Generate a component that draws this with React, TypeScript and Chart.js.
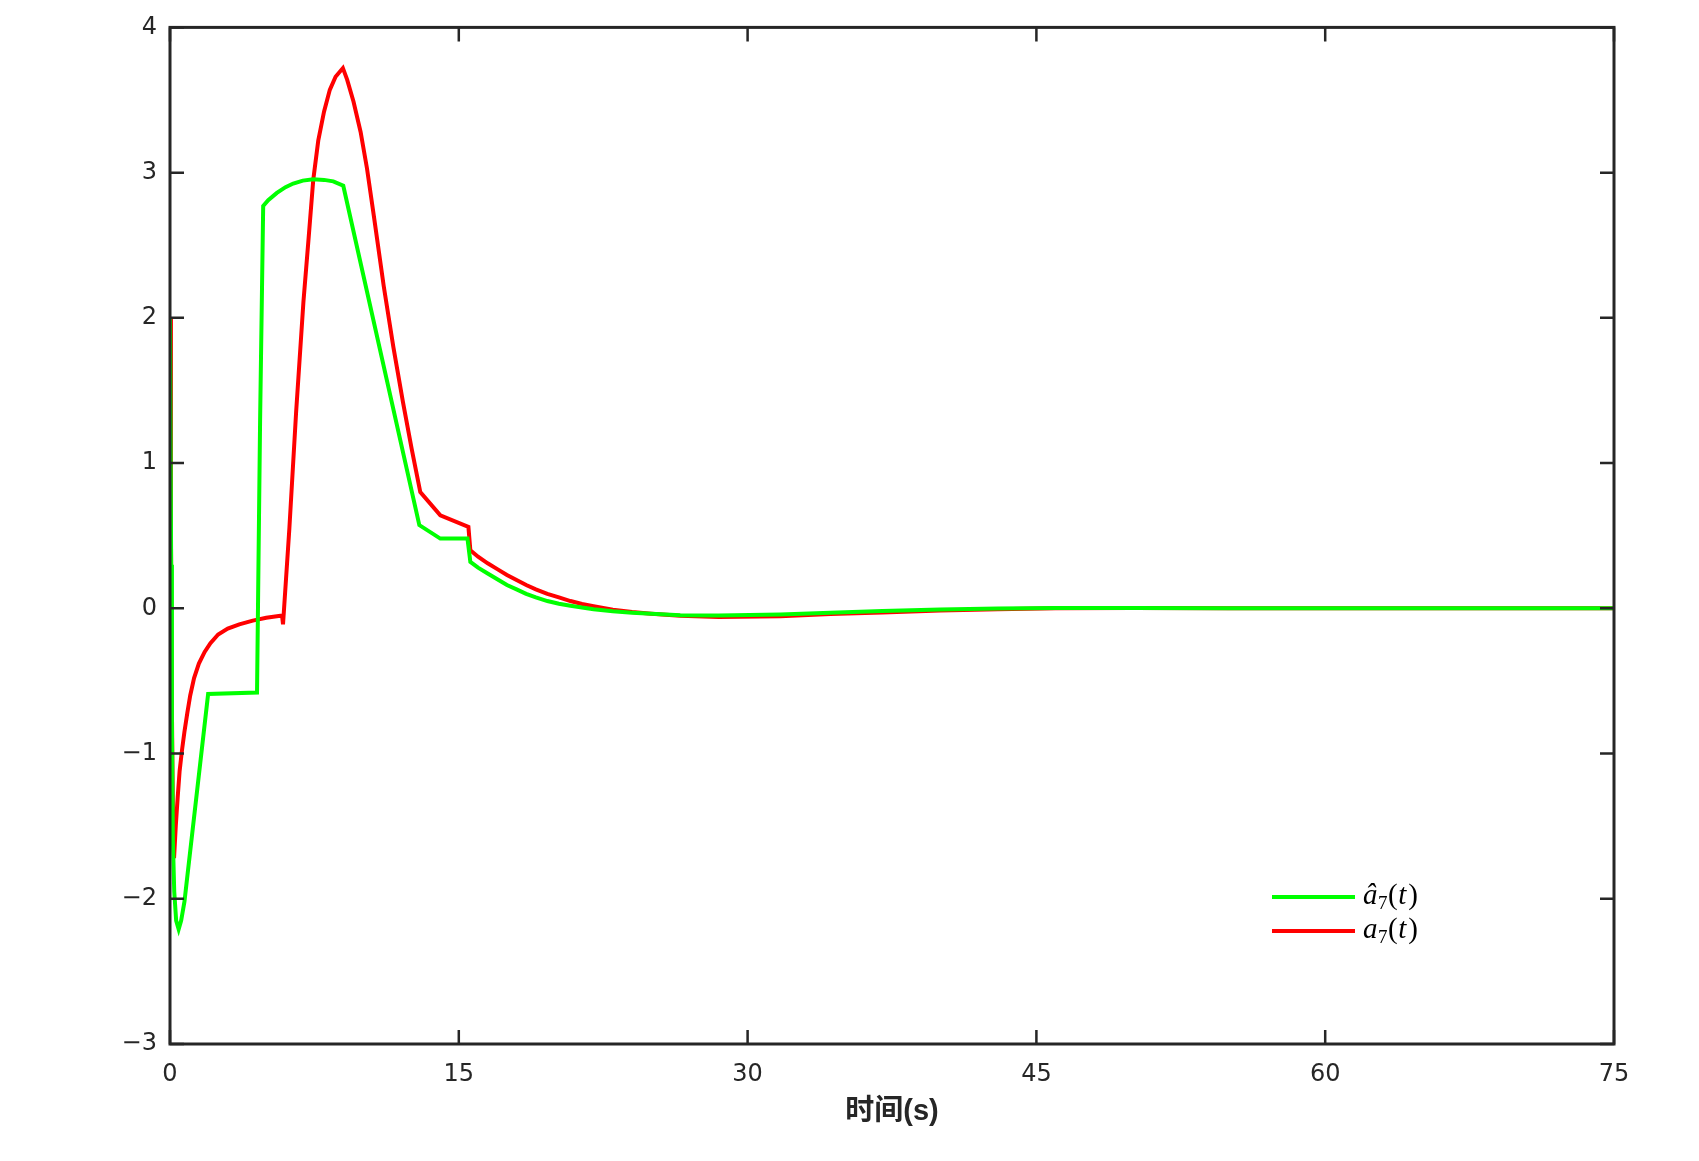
import React, { useEffect, useRef } from "react";
import { Chart, registerables } from "chart.js";

Chart.register(...registerables);

// estimated parameter â7(t)
const estTime = [
	0, 0.06, 0.1, 0.15, 0.22, 0.32, 0.45, 0.58, 0.75, 1.98, 4.52, 4.68, 4.84, 5.1, 5.55, 6.0, 6.4, 6.9, 7.44, 8.0,
	8.48, 9.0, 12.95, 14.04, 15.45, 15.6, 16.0, 16.5, 17.0, 17.5, 18.0, 18.5, 19.0, 19.6, 20.2, 20.8, 21.4, 22, 23,
	24, 25, 26.5, 28.5, 31.7, 34.3, 37, 40, 43, 46, 50, 55, 60, 65, 70, 75,
];
const estValue = [
	2.0, 0.3, -0.8, -1.6, -1.95, -2.15, -2.21, -2.15, -2.02, -0.59, -0.58, 1.3, 2.77, 2.81, 2.86, 2.9, 2.925, 2.945,
	2.955, 2.95, 2.94, 2.91, 0.573, 0.48, 0.48, 0.32, 0.28, 0.24, 0.2, 0.16, 0.13, 0.1, 0.075, 0.05, 0.032, 0.018,
	0.005, -0.006, -0.02, -0.03, -0.038, -0.047, -0.05, -0.042, -0.03, -0.018, -0.008, -0.002, 0.002, 0.002, 0.001, 0,
	0, 0, 0,
];

// actual parameter a7(t)
const trueTime = [
	0, 0.05, 0.1, 0.15, 0.21, 0.3, 0.4, 0.5, 0.62, 0.75, 0.9, 1.05, 1.25, 1.5, 1.8, 2.1, 2.5, 3.0, 3.6, 4.3, 5.0, 5.82,
	5.87, 6.2, 6.55, 6.93, 7.2, 7.44, 7.7, 8.0, 8.3, 8.6, 8.98, 9.2, 9.53, 9.9, 10.23, 10.6, 11.1, 11.6, 12.1, 12.55,
	13.0, 14.04, 15.5, 15.6, 16.0, 16.5, 17.0, 17.5, 18.0, 18.5, 19.0, 19.6, 20.2, 20.8, 21.4, 22, 23, 24, 25, 26.5,
	28.5, 31.7, 34.3, 37, 40, 43, 46, 50, 55, 60, 65, 70, 75,
];
const trueValue = [
	2.0, 0.5, -0.7, -1.4, -1.72, -1.5, -1.3, -1.12, -0.98, -0.85, -0.72, -0.6, -0.48, -0.38, -0.3, -0.24, -0.18, -0.14,
	-0.11, -0.085, -0.065, -0.05, -0.11, 0.55, 1.35, 2.11, 2.55, 2.95, 3.22, 3.42, 3.57, 3.66, 3.72, 3.64, 3.49, 3.28,
	3.03, 2.69, 2.22, 1.8, 1.42, 1.1, 0.8, 0.64, 0.56, 0.4, 0.355, 0.31, 0.27, 0.23, 0.195, 0.16, 0.13, 0.1, 0.075,
	0.05, 0.03, 0.015, -0.01, -0.026, -0.038, -0.052, -0.06, -0.055, -0.04, -0.028, -0.015, -0.006, 0, 0.002, 0.001, 0,
	0, 0, 0,
];

const xTicks = [0, 15, 30, 45, 60, 75];
const yTicks = [-3, -2, -1, 0, 1, 2, 3, 4];
const xLabel = "时间(s)";
const legendBase = ["â", "a"];

const toPoints = (t: number[], v: number[]) => t.map((x, i) => ({ x, y: v[i] }));

const axisColor = "#262626";
const tickFont = { family: "'DejaVu Sans', sans-serif", size: 24 };

const framePlugin = {
	id: "frame",
	afterDatasetsDraw(chart: any) {
		const { ctx, chartArea: a, scales } = chart;
		ctx.save();
		ctx.strokeStyle = axisColor;
		ctx.lineWidth = 3;
		ctx.strokeRect(a.left, a.top, a.right - a.left, a.bottom - a.top);

		// ticks point inward, on all four sides
		ctx.lineWidth = 2.5;
		ctx.beginPath();
		xTicks.forEach((v) => {
			const x = scales.x.getPixelForValue(v);
			ctx.moveTo(x, a.bottom);
			ctx.lineTo(x, a.bottom - 14);
			ctx.moveTo(x, a.top);
			ctx.lineTo(x, a.top + 14);
		});
		yTicks.forEach((v) => {
			const y = scales.y.getPixelForValue(v);
			ctx.moveTo(a.left, y);
			ctx.lineTo(a.left + 14, y);
			ctx.moveTo(a.right, y);
			ctx.lineTo(a.right - 14, y);
		});
		ctx.stroke();

		// legend inside the plot, bottom right
		const x0 = a.right - 342;
		const x1 = a.right - 259;
		chart.data.datasets.forEach((ds: any, i: number) => {
			const y = a.bottom - 147 + i * 34;
			ctx.strokeStyle = ds.borderColor;
			ctx.lineWidth = 4;
			ctx.beginPath();
			ctx.moveTo(x0, y);
			ctx.lineTo(x1, y);
			ctx.stroke();

			ctx.fillStyle = "#000";
			ctx.textBaseline = "alphabetic";
			const base = y + 7;
			let x = x1 + 8;
			const parts: [string, string, number][] = [
				[legendBase[i], "italic 29px 'Liberation Serif', serif", 0],
				["7", "19px 'Liberation Serif', serif", 5],
				["(", "29px 'Liberation Serif', serif", 0],
				["t", "italic 29px 'Liberation Serif', serif", 0],
				[")", "29px 'Liberation Serif', serif", 0],
			];
			parts.forEach(([s, f, dy]) => {
				ctx.font = f;
				ctx.fillText(s, x, base + dy);
				x += ctx.measureText(s).width + (s === "t" ? 2 : 0.5);
			});
		});
		ctx.restore();
	},
};

const App: React.FC = () => {
	const canvasRef = useRef<HTMLCanvasElement | null>(null);
	const chartRef = useRef<Chart | null>(null);

	useEffect(() => {
		if (!canvasRef.current) return;
		chartRef.current = new Chart(canvasRef.current, {
			type: "line",
			data: {
				datasets: [
					{
						label: "â7(t)",
						data: toPoints(estTime, estValue),
						borderColor: "#00ff00",
						borderWidth: 4,
						pointRadius: 0,
						tension: 0,
					},
					{
						label: "a7(t)",
						data: toPoints(trueTime, trueValue),
						borderColor: "#ff0000",
						borderWidth: 4,
						pointRadius: 0,
						tension: 0,
					},
				],
			},
			options: {
				animation: false,
				responsive: true,
				maintainAspectRatio: false,
				layout: { padding: { left: 0, top: 23, right: 85, bottom: 0 } },
				plugins: {
					legend: { display: false },
					tooltip: { enabled: false },
				},
				scales: {
					x: {
						type: "linear",
						min: 0,
						max: 75,
						afterFit: (s: any) => {
							s.height = 117;
						},
						afterBuildTicks: (s: any) => {
							s.ticks = xTicks.map((value) => ({ value }));
						},
						grid: { display: false, drawTicks: false },
						border: { display: false },
						ticks: {
							padding: 16,
							color: axisColor,
							font: tickFont,
							maxRotation: 0,
							callback: (v: any) => String(v),
						},
						title: {
							display: true,
							text: xLabel,
							color: axisColor,
							padding: 32,
							font: {
								family: "'Liberation Sans', 'Noto Sans CJK SC', sans-serif",
								size: 29,
								weight: "bold",
							},
						},
					},
					y: {
						type: "linear",
						min: -3,
						max: 4,
						afterFit: (s: any) => {
							s.width = 170;
						},
						afterBuildTicks: (s: any) => {
							s.ticks = yTicks.map((value) => ({ value }));
						},
						grid: { display: false, drawTicks: false },
						border: { display: false },
						ticks: {
							padding: 13,
							color: axisColor,
							font: tickFont,
							callback: (v: any) => (v < 0 ? "\u2212" + Math.abs(v) : String(v)),
						},
					},
				},
			},
			plugins: [framePlugin],
		});

		return () => {
			if (chartRef.current) {
				chartRef.current.destroy();
				chartRef.current = null;
			}
		};
	}, []);

	return (
		<div style={{ position: "absolute", left: 0, top: 0, width: 1699, height: 1161, background: "#fff" }}>
			<canvas ref={canvasRef}></canvas>
		</div>
	);
};

export default App;
